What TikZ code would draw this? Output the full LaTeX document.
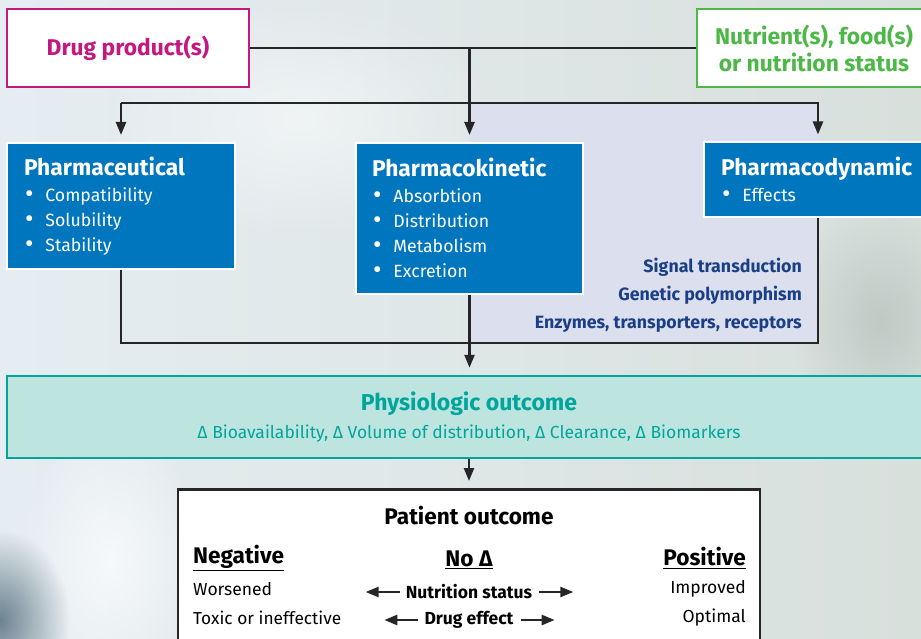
\documentclass[tikz,border=0pt]{standalone}
\usepackage{fontspec}
\setmainfont{Fira Sans}
\usetikzlibrary{arrows.meta,fadings}

\definecolor{drugcol}{HTML}{C2187F}
\definecolor{nutrcol}{HTML}{4DB848}
\definecolor{boxblue}{HTML}{0076BF}
\definecolor{lavcol}{HTML}{DCDFEE}
\definecolor{navycol}{HTML}{1B3F87}
\definecolor{tealcol}{HTML}{00A59B}
\definecolor{tealfill}{HTML}{BEE4DF}
\definecolor{bgleft}{HTML}{E6EDF2}
\definecolor{bgright}{HTML}{D8E0DC}
\definecolor{bgdark}{HTML}{4F6878}
\definecolor{bggrey}{HTML}{B9C4BF}

\tikzfading[name=blurout, inner color=transparent!0, outer color=transparent!100]

\newcommand\bitem[1]{\hspace*{1pt}{\fontsize{26}{25}\selectfont\raisebox{-1.5pt}{\textbullet}}\hspace{12pt}#1}

\begin{document}
\begin{tikzpicture}[x=1pt,y=-1pt,
  line/.style={line width=2.4pt, black!85},
  arrow/.style={line, -{Triangle[width=10pt,length=13pt]}, shorten >=7pt},
  outline/.style={fill=white, line width=2.5pt},
  bluebox/.style={fill=boxblue, draw=white, line width=2pt, text=white,
    align=left, inner ysep=0pt, font=\fontsize{17.7}{25}\selectfont},
  title/.style={font=\bfseries\fontsize{22.8}{27}\selectfont},
  txt/.style={inner sep=0pt}]
  \useasboundingbox (0,0) rectangle (921,639);
  \clip (0,0) rectangle (921,639);
  % blurred photo behind the chart
  \shade[left color=bgleft, right color=bgright] (0,0) rectangle (921,639);
  \fill[white, opacity=0.7, path fading=blurout] (110,560) ellipse (90 and 140);
  \fill[white, opacity=0.5, path fading=blurout] (300,120) ellipse (200 and 120);
  \fill[bgdark, opacity=0.8, path fading=blurout] (0,620) ellipse (70 and 90);
  \fill[bggrey, opacity=0.8, path fading=blurout] (880,320) ellipse (90 and 120);

  % junctions of the connectors
  \coordinate (split) at (469,103);
  \coordinate (merge) at (469,343);
  \fill[lavcol] (split) rectangle (818,343);

  % sources
  \node[outline, draw=drugcol, text=drugcol, minimum width=242, minimum height=78,
    title] (drug) at (128,48) {Drug product(s)};
  \node[outline, draw=nutrcol, text=nutrcol, minimum width=234, minimum height=78,
    align=center, title] (nutr) at (814,48)
    {Nutrient(s), food(s)\\or nutrition status};

  % the three kinds of interaction
  \node[bluebox, text width=194, inner xsep=17, minimum height=126] (phc) at (121,206)
    {{\bfseries\fontsize{22.8}{25}\selectfont Pharmaceutical}\\[1pt]
     \bitem{Compatibility}\\ \bitem{Solubility}\\ \bitem{Stability}};
  \node[bluebox, text width=195, inner xsep=16, minimum height=151] (pk) at (469.5,218.5)
    {{\bfseries\fontsize{22.8}{25}\selectfont Pharmacokinetic}\\[1pt]
     \bitem{Absorbtion}\\ \bitem{Distribution}\\ \bitem{Metabolism}\\ \bitem{Excretion}};
  \node[bluebox, text width=194, inner xsep=17, minimum height=75] (pd) at (818,180)
    {{\bfseries\fontsize{22.8}{25}\selectfont Pharmacodynamic}\\[1pt]
     \bitem{Effects}};
  \node[txt, anchor=east, align=right, text=navycol,
    font=\bfseries\fontsize{17.8}{28}\selectfont] (mech) at (802,295)
    {Signal transduction\\Genetic polymorphism\\Enzymes, transporters, receptors};

  % outcomes
  \node[fill=tealfill, draw=tealcol, line width=2.5pt, text=tealcol, align=center,
    minimum width=924, minimum height=82] (physio) at (469,417)
    {{\bfseries\fontsize{23}{26}\selectfont Physiologic outcome}\\[9pt]
     {\fontsize{17.5}{20}\selectfont Δ Bioavailability, Δ Volume of distribution, Δ Clearance, Δ Biomarkers}};
  \node[outline, draw=black!85, minimum width=582, minimum height=170, anchor=north]
    (patient) at (469,488) {};
  \node[txt, font=\bfseries\fontsize{22.6}{25}\selectfont] (pout) at (469,516) {Patient outcome};
  \node[txt, anchor=west, font=\bfseries\fontsize{22.6}{25}\selectfont] (neg) at (193,558) {\underline{Negative}};
  \node[txt, font=\bfseries\fontsize{22.6}{25}\selectfont] (nochg) at (469,560) {\underline{No Δ}};
  \node[txt, anchor=east, font=\bfseries\fontsize{22.6}{25}\selectfont] (pos) at (746,558) {\underline{Positive}};
  \node[txt, anchor=west, font=\fontsize{17.5}{20}\selectfont] (wors) at (193,589) {Worsened};
  \node[txt, anchor=west, font=\fontsize{17.3}{20}\selectfont] (toxic) at (193,618) {Toxic or ineffective};
  \node[txt, anchor=east, font=\fontsize{17.5}{20}\selectfont] (impr) at (746,589) {Improved};
  \node[txt, anchor=east, font=\fontsize{17.5}{20}\selectfont] (opt) at (746,618) {Optimal};
  \node[txt, font=\bfseries\fontsize{17.5}{20}\selectfont] (ns) at (469,592) {Nutrition status};
  \node[txt, font=\bfseries\fontsize{17.5}{20}\selectfont] (de) at (469,620) {Drug effect};

  % connectors
  \draw[line] (drug) -- (nutr);
  \draw[arrow] (drug.east -| pk.north) -- (pk.north);
  \draw[arrow] (split -| phc.north) -| (phc.north);
  \draw[arrow] (split -| phc.north) -| (pd.north);
  \draw[line] (phc.south) |- (merge) -| (pd.south);
  \draw[arrow] (pk.south) -- (pk.south |- physio.north);
  \draw[arrow] (physio.south) -- (patient.north);
  \foreach \n in {ns, de} {
    \draw[line, -{Triangle[width=10pt,length=13pt]}] ([xshift=-6pt]\n.west) -- ++(-34,0);
    \draw[line, -{Triangle[width=10pt,length=13pt]}] ([xshift=7pt]\n.east) -- ++(34,0);
  }
\end{tikzpicture}
\end{document}
